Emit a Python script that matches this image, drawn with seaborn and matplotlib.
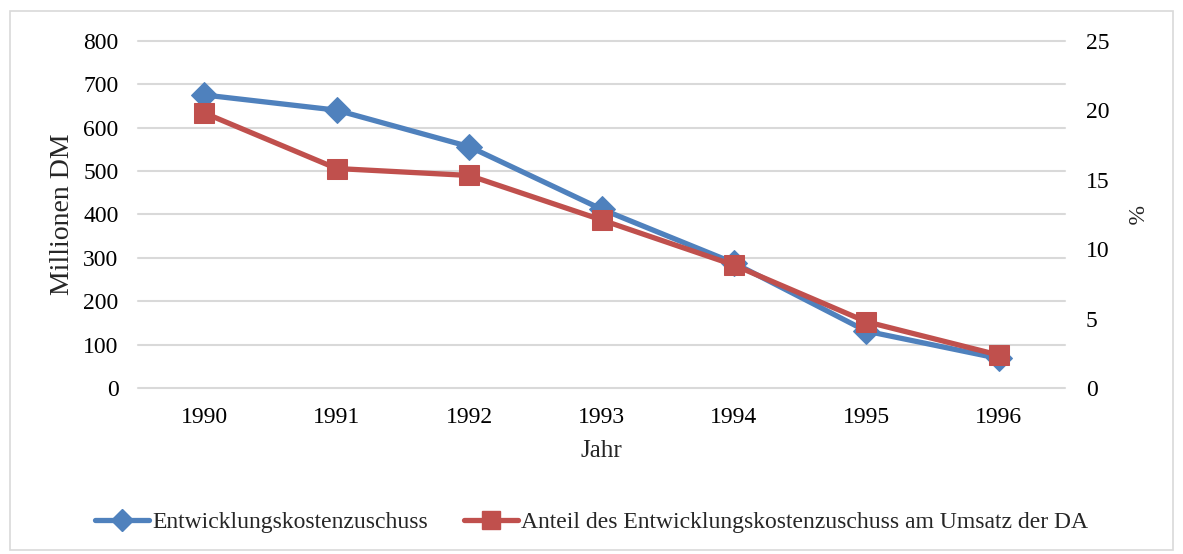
import matplotlib.pyplot as plt
import seaborn as sns
import pandas as pd
from matplotlib.patches import Rectangle
from matplotlib.lines import Line2D

# data
jahre = ['1990', '1991', '1992', '1993', '1994', '1995', '1996']
zuschuss = [675, 640, 556, 412, 288, 131, 68]            # Millionen DM
anteil = [19.8, 15.8, 15.3, 12.1, 8.85, 4.77, 2.37]    # %

df = pd.DataFrame({'Jahr': jahre, 'Zuschuss': zuschuss, 'Anteil': anteil})
df['pos'] = range(len(df))

sns.set_style('white')
plt.rcParams['font.family'] = ['Liberation Serif', 'DejaVu Serif']

blue = '#4F81BD'
red = '#C0504D'
grid = '#D9D9D9'

fig = plt.figure(figsize=(11.83, 5.54), dpi=100)
ax = fig.add_axes([138 / 1183, 1 - 388 / 554, (1065 - 138) / 1183, (388 - 40.7) / 554])
ax2 = ax.twinx()

sns.lineplot(data=df, x='pos', y='Zuschuss', ax=ax, color=blue, lw=3.8,
             marker='D', markersize=13, markeredgecolor=blue, zorder=3)
sns.lineplot(data=df, x='pos', y='Anteil', ax=ax2, color=red, lw=3.8,
             marker='s', markersize=14, markeredgecolor=red, zorder=3)

ax.set_xlim(-0.5, len(jahre) - 0.5)
ax.set_ylim(0, 800)
ax2.set_ylim(0, 25)
ax.set_yticks(range(0, 801, 100))
ax2.set_yticks(range(0, 26, 5))
ax.set_xticks(df['pos'])
ax.set_xticklabels(jahre)

ax.yaxis.grid(True, color=grid, lw=1.5)
for gl in ax.get_ygridlines():
    gl.set_clip_on(False)
ax.set_axisbelow(True)
for a in (ax, ax2):
    for s in a.spines.values():
        s.set_visible(False)
    a.tick_params(length=0, labelsize=17, colors='black')
ax.tick_params(axis='y', pad=14)
ax.tick_params(axis='x', pad=14)
ax2.tick_params(axis='y', pad=15)

ax.set_xlabel('Jahr', fontsize=18, labelpad=8)
ax.set_ylabel('Millionen DM', fontsize=20, labelpad=6)
ax2.set_ylabel('%', fontsize=17, rotation=270, labelpad=24)

# legend below the plot
handles = [Line2D([], [], color=blue, lw=3.8, marker='D', markersize=11),
           Line2D([], [], color=red, lw=3.8, marker='s', markersize=13)]
fig.legend(handles, ['Entwicklungskostenzuschuss',
                     'Anteil des Entwicklungskostenzuschuss am Umsatz der DA'],
           loc='center', bbox_to_anchor=(0.5, 1 - 522 / 554), ncol=2, frameon=False,
           fontsize=17, handlelength=2.3, handletextpad=0.15, columnspacing=1.5)

# thin chart border
fig.patches.append(Rectangle((10 / 1183, 4 / 554), 1163 / 1183, 539 / 554,
                             transform=fig.transFigure, fill=False,
                             edgecolor=grid, lw=1.2))

fig.savefig('out.png', dpi=100)
